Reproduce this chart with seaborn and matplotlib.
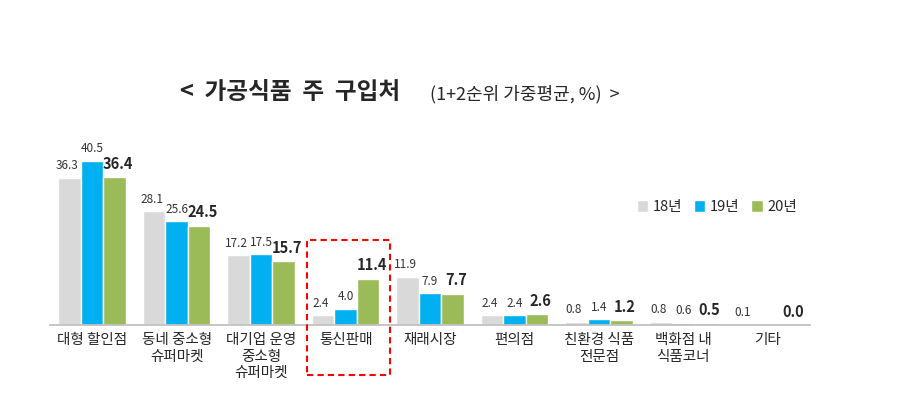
import matplotlib
matplotlib.use("Agg")
import matplotlib.pyplot as plt
import seaborn as sns
import pandas as pd
from matplotlib.patches import Rectangle

categories = ["대형 할인점", "동네 중소형\n슈퍼마켓", "대기업 운영\n중소형\n슈퍼마켓", "통신판매", "재래시장",
              "편의점", "친환경 식품\n전문점", "백화점 내\n식품코너", "기타"]
years = ["18년", "19년", "20년"]
v18 = [36.3, 28.1, 17.2, 2.4, 11.9, 2.4, 0.8, 0.8, 0.1]
v19 = [40.5, 25.6, 17.5, 4.0, 7.9, 2.4, 1.4, 0.6, 0.0]
v20 = [36.4, 24.5, 15.7, 11.4, 7.7, 2.6, 1.2, 0.5, 0.0]
colors = ["#D9D9D9", "#00B0F0", "#9BBB59"]

sns.set_theme(style="white")
plt.rcParams['font.family'] = ['Noto Sans CJK KR', 'DejaVu Sans']

rows = []
for i, c in enumerate(categories):
    for y, vals in zip(years, [v18, v19, v20]):
        rows.append({"cat": c, "year": y, "val": vals[i]})
df = pd.DataFrame(rows)

fig = plt.figure(figsize=(9.05, 4.0), dpi=100)
ax = fig.add_axes([50/905, 0.1875, 760/905, 0.5075])
sns.barplot(data=df, x="cat", y="val", hue="year", palette=colors, width=0.8,
            saturation=1, ax=ax, legend=True)
ax.set_ylim(0, 50)
ax.set_xlim(-0.5, 8.5)
for s in ["top", "right", "left"]:
    ax.spines[s].set_visible(False)
ax.spines["bottom"].set_color("#BFBFBF")
ax.set_yticks([])
ax.set_xlabel(""); ax.set_ylabel("")
ax.tick_params(axis="x", length=0, pad=6, labelsize=10.5)

for k, cont in enumerate(ax.containers):
    for i, (bar, v) in enumerate(zip(cont, [v18, v19, v20][k])):
        if k == 1 and categories[i] == "기타":
            continue
        x = bar.get_x() + bar.get_width()/2
        if k == 2:
            ax.text(x + 0.04, v + 1.3, f"{v:.1f}", ha="center", va="bottom",
                    fontsize=10.5, fontweight="bold")
        else:
            ax.text(x - (0.03 if k == 0 else 0), v + 1.3, f"{v:.1f}", ha="center", va="bottom",
                    fontsize=8.5, color="#333333")

leg = ax.legend(loc="upper right", bbox_to_anchor=(1.0, 0.68), ncol=3, frameon=False,
                handlelength=0.8, handleheight=0.8, columnspacing=0.8, handletextpad=0.3,
                fontsize=10.5)

fig.text(180/905, 1-92/400, "<  가공식품  주  구입처", fontsize=17, fontweight="bold", va="center", ha="left")
fig.text(430/905, 1-94/400, "(1+2순위 가중평균, %)  >", fontsize=13, va="center", ha="left")

fig.patches.append(Rectangle((307/905, 1-375/400), 83/905, 135/400, transform=fig.transFigure,
                             fill=False, edgecolor="red", linestyle=(0, (3, 2)), linewidth=1.5))
fig.savefig("out.png", dpi=100)
